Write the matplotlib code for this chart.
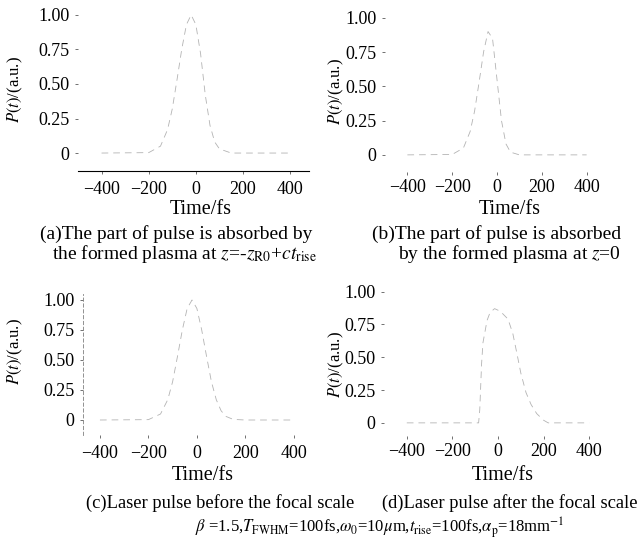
import matplotlib
matplotlib.use('Agg')
import matplotlib.pyplot as plt

plt.rcParams['font.family'] = ['Liberation Serif', 'DejaVu Serif']
plt.rcParams['mathtext.fontset'] = 'stix'

W, H = 639, 545

# normalised power P(t) of the pulse at four positions along the focus
t_a = [-400, -200, -150, -120, -100, -80, -60, -40, -20, 0, 20, 40, 60, 80, 100, 150, 400]
p_a = [0.0, 0.003, 0.05, 0.17, 0.32, 0.53, 0.75, 0.93, 1.0, 0.93, 0.72, 0.42, 0.2, 0.08, 0.03, 0.0, 0.0]

t_b = [-400, -200, -150, -120, -100, -80, -60, -40, -20, 0, 20, 40, 60, 100, 400]
p_b = [0.0, 0.003, 0.05, 0.17, 0.32, 0.53, 0.75, 0.9, 0.85, 0.55, 0.25, 0.08, 0.02, 0.0, 0.0]

t_c = [-400, -200, -150, -120, -100, -80, -60, -40, -20, 0, 20, 40, 60, 80, 100, 120, 150, 200, 400]
p_c = [0.0, 0.003, 0.05, 0.17, 0.32, 0.53, 0.75, 0.93, 1.0, 0.93, 0.75, 0.53, 0.32, 0.17, 0.077, 0.03, 0.005, 0.0, 0.0]

t_d = [-400, -200, -85, -80, -72, -66, -48, -35, -15, 10, 44, 65, 84, 100, 123, 145, 170, 200, 220, 400]
p_d = [0.0, 0.0, 0.0, 0.1, 0.45, 0.61, 0.78, 0.84, 0.87, 0.85, 0.79, 0.68, 0.52, 0.38, 0.23, 0.14, 0.07, 0.02, 0.0, 0.0]

xticks = [-400, -200, 0, 200, 400]
yticks = [0, 0.25, 0.5, 0.75, 1.0]
ytick_labels = ['0', '0.25', '0.50', '0.75', '1.00']

# caption lines: text, x, y, horizontal alignment, size
captions = {
    'a': [('(a)The part of pulse is absorbed by', 40, 234, 'left', 14),
          (r'the formed plasma at $z$=-$z_{\rm R0}$+$ct_{\rm rise}$', 52, 254, 'left', 14)],
    'b': [('(b)The part of pulse is absorbed', 621, 234, 'right', 14),
          (r'by the formed plasma at $z$=0', 621, 254, 'right', 14)],
    'c': [('(c)Laser pulse before the focal scale', 86, 503, 'left', 13.3)],
    'd': [('(d)Laser pulse after the focal scale', 637, 503, 'right', 13.3)],
}
params = (r'$\beta$ =1.5,$T_{\rm FWHM}$=100fs,$\omega_0$=10$\mu$m,'
          r'$t_{\rm rise}$=100fs,$\alpha_{\rm p}$=18mm$^{-1}$')

# panel geometry in pixels: left, top, right, bottom, xlim, ylim, label spots
panels = {
    'a': dict(box=(78, 8, 309, 171), xlim=(-500, 480), ylim=(-0.13, 1.05), pad=5,
              xlab=(201, 209), ylab=(15, 90), data=(t_a, p_a)),
    'b': dict(box=(385, 11, 609, 172), xlim=(-500, 500), ylim=(-0.125, 1.05), pad=3,
              xlab=(510, 209), ylab=(336, 92), data=(t_b, p_b)),
    'c': dict(box=(83, 294, 318, 435), xlim=(-470, 500), ylim=(-0.125, 1.05), pad=5,
              xlab=(203, 475), ylab=(15, 352), data=(t_c, p_c)),
    'd': dict(box=(384, 285, 612, 436), xlim=(-500, 500), ylim=(-0.1, 1.05), pad=3,
              xlab=(503, 475), ylab=(336, 365), data=(t_d, p_d)),
}


def fx(px):
    return px / W


def fy(py):
    return 1 - py / H


fig = plt.figure(figsize=(W / 100, H / 100), dpi=100)

for key, p in panels.items():
    l, t, r, b = p['box']
    ax = fig.add_axes([fx(l), fy(b), fx(r) - fx(l), fy(t) - fy(b)])
    tt, pp = p['data']
    ax.plot(tt, pp, color='0.7', lw=0.6, ls=(0, (8, 6)))
    ax.set_xlim(*p['xlim'])
    ax.set_ylim(*p['ylim'])
    ax.set_xticks(xticks)
    ax.set_yticks(yticks)
    ax.set_yticklabels(ytick_labels)
    ax.tick_params(length=2, width=0.6, color='0.35', labelsize=13, pad=4)
    ax.tick_params(axis='x', pad=p['pad'])
    for s in ax.spines.values():
        s.set_visible(False)
    if key == 'a':
        ax.spines['bottom'].set_visible(True)
        ax.spines['bottom'].set_linewidth(0.8)
    if key == 'c':
        ax.spines['left'].set_visible(True)
        ax.spines['left'].set_linestyle((0, (4, 3)))
        ax.spines['left'].set_color('0.5')
        ax.spines['left'].set_linewidth(0.6)
    ax.patch.set_alpha(0)

    fig.text(fx(p['xlab'][0]), fy(p['xlab'][1]), 'Time/fs', fontsize=14.5,
             ha='center', va='center')
    fig.text(fx(p['ylab'][0]), fy(p['ylab'][1]), r'$P(t)$/(a.u.)', fontsize=12,
             ha='center', va='center', rotation=90)
    for txt, x, y, ha, size in captions[key]:
        fig.text(fx(x), fy(y), txt, fontsize=size, ha=ha, va='center')

fig.text(fx(380), fy(528), params, fontsize=12, ha='center', va='center')

fig.savefig('out.png', dpi=100)
